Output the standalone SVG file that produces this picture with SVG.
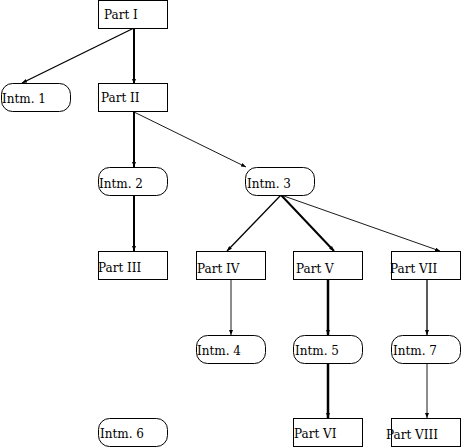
<svg xmlns="http://www.w3.org/2000/svg" width="462" height="447" viewBox="0 0 462 447">
  <style>
    .box { fill: #fff; stroke: #000; stroke-width: 1; }
    .lbl { font-family: "DejaVu Serif", "Liberation Serif", serif; font-size: 12px; fill: #000; }
    .e { fill: none; stroke: #000; marker-end: url(#tip); }
    .w1 { stroke-width: 0.9; }
    .w15 { stroke-width: 1.3; }
    .w2 { stroke-width: 2; }
    .w25 { stroke-width: 2.5; }
  </style>
  <defs>
    <marker id="tip" markerUnits="userSpaceOnUse" markerWidth="5" markerHeight="4" refX="5" refY="2" orient="auto">
      <path d="M0,0 L5,2 L0,4 z" fill="#000"/>
    </marker>
  </defs>
  <rect width="462" height="447" fill="#fff"/>

  <g id="connectors">
    <line class="e w15" x1="134" y1="28" x2="22" y2="83"/>
    <line class="e w2" x1="134" y1="28" x2="134" y2="84"/>
    <line class="e w2" x1="134" y1="112" x2="134" y2="167"/>
    <line class="e w1" x1="134" y1="112" x2="246" y2="167"/>
    <line class="e w2" x1="134" y1="195" x2="134" y2="251"/>
    <line class="e w15" x1="281" y1="195" x2="227" y2="251"/>
    <line class="e w2" x1="281" y1="195" x2="334" y2="251"/>
    <line class="e w1" x1="281" y1="195" x2="440" y2="251"/>
    <line class="e w1" x1="231" y1="279" x2="231" y2="335"/>
    <line class="e w25" x1="328" y1="279" x2="328" y2="335"/>
    <line class="e w15" x1="427" y1="279" x2="427" y2="335"/>
    <line class="e w25" x1="328" y1="363" x2="328" y2="418"/>
    <line class="e w1" x1="427" y1="363" x2="427" y2="418"/>
  </g>

  <g id="part1"><rect class="box" x="98.5" y="0.5" width="69" height="28"/><text class="lbl" x="104" y="19">Part I</text></g>
  <g id="intm1"><rect class="box" x="1.5" y="83.5" width="69" height="28" rx="11"/><text class="lbl" x="2" y="103">Intm. 1</text></g>
  <g id="part2"><rect class="box" x="98.5" y="83.5" width="69" height="28"/><text class="lbl" x="101" y="102">Part II</text></g>
  <g id="intm2"><rect class="box" x="98.5" y="167.5" width="69" height="28" rx="11"/><text class="lbl" x="99" y="188">Intm. 2</text></g>
  <g id="intm3"><rect class="box" x="245.5" y="167.5" width="69" height="28" rx="11"/><text class="lbl" x="247" y="188">Intm. 3</text></g>
  <g id="part3"><rect class="box" x="98.5" y="251.5" width="69" height="28"/><text class="lbl" x="98" y="272">Part III</text></g>
  <g id="part4"><rect class="box" x="196.5" y="251.5" width="69" height="28"/><text class="lbl" x="197" y="273">Part IV</text></g>
  <g id="part5"><rect class="box" x="293.5" y="251.5" width="69" height="28"/><text class="lbl" x="296" y="273">Part V</text></g>
  <g id="part7"><rect class="box" x="391.5" y="251.5" width="69" height="28"/><text class="lbl" x="390" y="273">Part VII</text></g>
  <g id="intm4"><rect class="box" x="196.5" y="335.5" width="69" height="28" rx="11"/><text class="lbl" x="197" y="355">Intm. 4</text></g>
  <g id="intm5"><rect class="box" x="293.5" y="335.5" width="69" height="28" rx="11"/><text class="lbl" x="295" y="355">Intm. 5</text></g>
  <g id="intm7"><rect class="box" x="391.5" y="335.5" width="69" height="28" rx="11"/><text class="lbl" x="393" y="355">Intm. 7</text></g>
  <g id="intm6"><rect class="box" x="98.5" y="418.5" width="69" height="28" rx="11"/><text class="lbl" x="100" y="438">Intm. 6</text></g>
  <g id="part6"><rect class="box" x="293.5" y="418.5" width="69" height="28"/><text class="lbl" x="294" y="438">Part VI</text></g>
  <g id="part8"><rect class="box" x="391.5" y="418.5" width="69" height="28"/><text class="lbl" x="386" y="439">Part VIII</text></g>
</svg>
